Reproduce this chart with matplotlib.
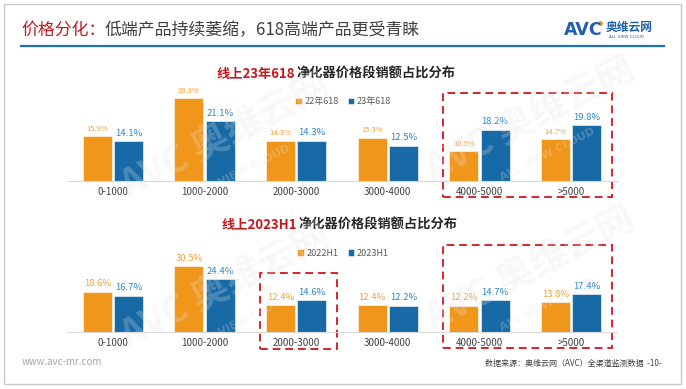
import matplotlib
matplotlib.use("Agg")
from matplotlib import pyplot as plt
from matplotlib.patches import Rectangle
import numpy as np

plt.rcParams['font.family'] = ['Noto Sans CJK SC', 'DejaVu Sans']

# 数据
categories = ["0-1000", "1000-2000", "2000-3000", "3000-4000", "4000-5000", ">5000"]

top_series = ["22年618", "23年618"]
top_2022 = [15.9, 29.3, 14.3, 15.3, 10.5, 14.7]
top_2023 = [14.1, 21.1, 14.3, 12.5, 18.2, 19.8]

bot_series = ["2022H1", "2023H1"]
bot_2022 = [18.6, 30.5, 12.4, 12.4, 12.2, 13.8]
bot_2023 = [16.7, 24.4, 14.6, 12.2, 14.7, 17.4]

ORANGE = "#F0961B"
BLUE = "#176AA6"
ORANGE_TXT = "#F2A23C"
BLUE_TXT = "#2B86CC"
RED = "#C8161D"

W, H = 686, 389
fig = plt.figure(figsize=(W / 100, H / 100), dpi=100)
fig.patch.set_facecolor("white")


def fx(px):
    return px / W


def fy(py):
    return 1 - py / H


# 页面边框
fig.add_artist(Rectangle((fx(4), fy(384)), fx(677), (380) / H, transform=fig.transFigure,
                         fill=False, edgecolor="#C9C9C9", linewidth=1.0))

# 双色标题：两段各自左对齐
def two_color(x0, x1, y, parts, size, weight):
    first, second = parts
    fig.text(x0, y, first[0], color=first[1], fontsize=size, fontweight=weight, ha="left", va="center")
    fig.text(x1, y, second[0], color=second[1], fontsize=size, fontweight=weight, ha="left", va="center")


two_color(fx(21), fx(105), fy(30), [("价格分化：", RED), ("低端产品持续萎缩，618高端产品更受青睐", "#404040")], 12.2, "normal")
fig.add_artist(plt.Line2D([fx(21), fx(664)], [fy(46), fy(46)], transform=fig.transFigure,
                          color="#1F6FC5", linewidth=1.6))

# logo
fig.text(fx(564), fy(30), "AVC", color="#1F5FB0", fontsize=12.5, fontweight="bold",
         family="DejaVu Sans", va="center", ha="left")
fig.add_artist(plt.Line2D([fx(600)], [fy(23)], transform=fig.transFigure, marker="o", markersize=2.5,
                          color="#F39A1E", linestyle="none"))
fig.text(fx(606), fy(27), "奥维云网", color="#1F5FB0", fontsize=8.5, fontweight="bold", va="center", ha="left")
fig.text(fx(609), fy(37), "ALL VIEW CLOUD", color="#1F5FB0", fontsize=3, va="center", ha="left", family="DejaVu Sans")

# 水印
for cx, cy in [(225, 135), (530, 118), (225, 285), (530, 268)]:
    fig.text(fx(cx), fy(cy), "AVC 奥维云网", fontsize=27, fontweight="bold", rotation=27,
             color="#E4E4E4", alpha=0.25, ha="center", va="center", zorder=10)
    fig.text(fx(cx + 18), fy(cy + 36), "ALL VIEW CLOUD", fontsize=8, fontweight="bold", rotation=27,
             color="#E4E4E4", alpha=0.25, ha="center", va="center", zorder=10, family="DejaVu Sans")


def draw_panel(rect, vals_a, vals_b, names, ymax, small_a, title_parts, title_x, title_y, leg_y, boxes):
    ax = fig.add_axes(rect)
    x = np.arange(len(categories))
    bw = 0.316
    off = 0.17
    ba = ax.bar(x - off, vals_a, bw, color=ORANGE, edgecolor="white", linewidth=0.4, label=names[0])
    bb = ax.bar(x + off, vals_b, bw, color=BLUE, edgecolor="white", linewidth=0.4, label=names[1])
    for r, v in zip(ba, vals_a):
        ax.annotate(f"{v:.1f}%", (r.get_x() + r.get_width() / 2, v), xytext=(0, 2.5), textcoords="offset points",
                    ha="center", va="bottom", fontsize=5.5 if small_a else 6.8, color=ORANGE_TXT)
    for r, v in zip(bb, vals_b):
        ax.annotate(f"{v:.1f}%", (r.get_x() + r.get_width() / 2, v), xytext=(0, 2.5), textcoords="offset points",
                    ha="center", va="bottom", fontsize=6.8, color=BLUE_TXT)
    ax.set_xlim(-0.5, len(categories) - 0.5)
    ax.set_ylim(0, ymax)
    ax.set_xticks(x, categories)
    ax.tick_params(axis="x", length=0, pad=4, labelsize=7, labelcolor="#404040")
    ax.set_yticks([])
    for s in ["top", "right", "left"]:
        ax.spines[s].set_visible(False)
    ax.spines["bottom"].set_color("#D9D9D9")
    ax.spines["bottom"].set_linewidth(0.8)
    ax.set_facecolor("none")
    fig.legend(handles=[ba, bb], labels=names, loc="center", bbox_to_anchor=(0.5, leg_y), ncol=2, frameon=False,
               fontsize=6.5, labelcolor="#595959", handlelength=0.7, handleheight=0.7, columnspacing=1.0,
               handletextpad=0.3)
    two_color(title_x[0], title_x[1], title_y, title_parts, 9.5, "bold")
    tr = ax.get_xaxis_transform()
    for g0, g1, y0, y1 in boxes:
        ax.add_patch(Rectangle((g0 - 0.40, y0), (g1 + 0.445) - (g0 - 0.40), y1 - y0, transform=tr, fill=False,
                               edgecolor="#D7262C", linewidth=1.4, linestyle=(0, (4, 2.5)), clip_on=False))
    return ax


# 上图
draw_panel([fx(67), 1 - 181 / H, fx(617) - fx(67), 96 / H], top_2022, top_2023, top_series, 34.0, True,
           [("线上23年618", RED), ("净化器价格段销额占比分布", "#262626")], (fx(217), fx(297)), fy(74), fy(102),
           [(4, 5, -0.167, 0.917)])

# 下图
draw_panel([fx(67), 1 - 332 / H, fx(617) - fx(67), 77 / H], bot_2022, bot_2023, bot_series, 35.6, False,
           [("线上2023H1", RED), ("净化器价格段销额占比分布", "#262626")], (fx(222), fx(299)), fy(225), fy(253),
           [(2, 2, -0.221, 0.766), (4, 5, -0.208, 1.13)])

# 页脚
fig.text(fx(22), fy(362), "www.avc-mr.com", fontsize=7, color="#A6A6A6", ha="left", va="center")
fig.text(fx(662), fy(363), "数据来源：奥维云网（AVC）全渠道监测数据  -10-", fontsize=5.8, color="#404040",
         ha="right", va="center")

fig.savefig("out.png", dpi=100)
